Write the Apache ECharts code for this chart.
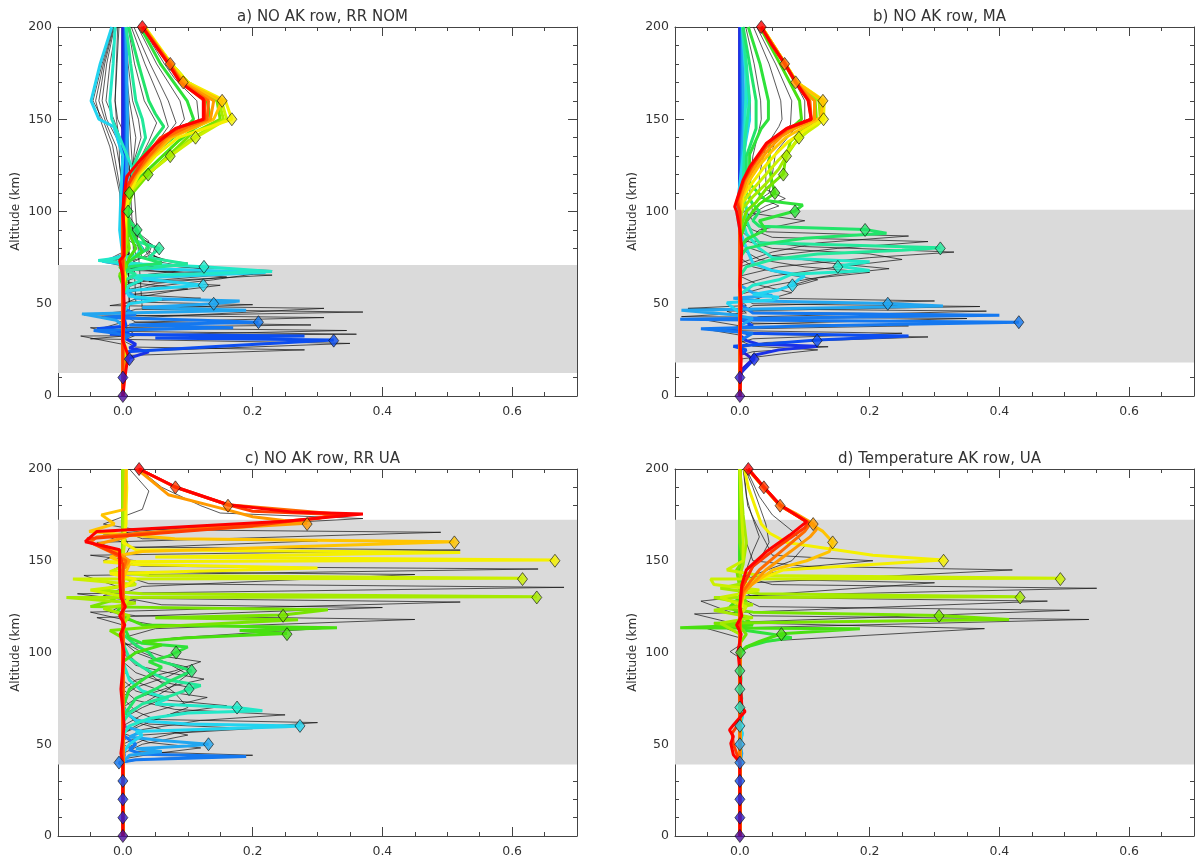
<!DOCTYPE html>
<html><head><meta charset="utf-8">
<script src="https://cdn.jsdelivr.net/npm/echarts@6/dist/echarts.min.js"></script>
<style>html,body{margin:0;padding:0;background:#fff}#c{width:1198px;height:862px}</style>
</head><body><div id="c"></div>
<script>
// ---------- data ----------
const rowAlts = [0,10,20,30,40,50,60,70,80,90,100,110,120,130,140,150,160,170,180,190,200];
const rowColors = ['#4b0c9e','#2a1dd0','#1a30e8','#0c4df0','#1478f0','#22a6f0','#22d4f0','#22e8c8','#22e89a','#22e46a','#2ee23a','#48e010','#78e400','#a6ea00','#ccf000','#f4f000','#ffc400','#ff9a00','#ff6a00','#ff3a00','#ff0000'];
const titles = ['a) NO AK row, RR NOM','b) NO AK row, MA','c) NO AK row, RR UA','d) Temperature AK row, UA'];
const xMajor = [0,0.2,0.4,0.6];
const shadeA = [12.5,71], shadeB = [18.2,101], shadeC = [39,172.4], shadeD = [39,172.4];

const diagA = [0,0,0.01,0.325,0.209,0.14,0.124,0.125,0.056,0.022,0.008,0.01,0.039,0.073,0.112,0.168,0.153,0.093,0.073,null,0.03];
const diagB = [0,0,0.022,0.119,0.43,0.228,0.081,0.151,0.309,0.193,0.085,0.054,0.067,0.072,0.091,0.129,0.128,0.086,0.069,null,0.033];
const diagC = [0,0,0,0,-0.006,0.132,0.273,0.176,0.102,0.106,0.082,0.253,0.247,0.638,0.616,0.666,0.511,0.284,0.162,0.081,0.025];
const diagD = [0,0,0,0,0,0,0,0,0,0,0.001,0.064,0.307,0.432,0.494,0.314,0.143,0.113,0.062,0.037,0.013];

const rowsA = [
 [[0,0],[0,10],[0.002,20],[0,30],[0,100],[0,200]],
 [[0,0],[0,10],[0.004,20],[0,28],[0,100],[0,200]],
 [[0,0],[0,12],[0.01,20.5],[0.04,24],[0.01,26],[0.02,28],[0,32],[0,100],[0.002,200]],
 [[0,0],[0,20],[0.006,24],[0.15,27],[0.325,30.4],[0.05,31.5],[0.28,32.5],[-0.02,33.5],[0.01,35],[-0.04,36.5],[0.005,38],[0,45],[0.003,70],[0.004,100],[0.004,150],[0.003,200]],
 [[0,0],[0,30],[0.01,33],[-0.045,35.5],[0.17,37],[0.01,38.5],[0.209,40],[0.12,41],[-0.03,42.5],[0.02,44],[0,48],[0.002,70],[0.006,100],[0.006,150],[0.004,200]],
 [[0,0],[0,38],[-0.01,41],[-0.063,44.5],[0.19,46.5],[0.03,48],[0.14,50],[0.18,51.5],[0.02,53],[0.01,56],[0,62],[0.003,80],[0.005,100],[0.007,150],[0.005,200]],
 [[0,0],[0,45],[0.01,50],[0.06,52.5],[0.01,54],[0.005,57],[0.124,60],[0.07,62],[0.02,64],[0.22,67],[0.05,69],[-0.032,73],[0,76],[-0.005,90],[-0.003,110],[0,130],[-0.014,146],[-0.037,150],[-0.049,160],[-0.035,180],[-0.017,200]],
 [[0,0],[0,55],[0.01,60],[0.03,63],[0.01,65],[0.23,67.5],[0.125,70],[0.03,71.5],[-0.038,73.5],[0.02,76],[0.03,80],[0.01,88],[0,100],[0.005,110],[0.016,119],[0.014,124],[-0.005,140],[-0.017,150],[-0.02,160],[-0.015,180],[-0.012,200]],
 [[0,0],[0,62],[0.02,66],[0.005,68],[0.1,71.5],[0.04,75],[0.056,80],[0.02,84],[0.01,90],[0.005,100],[0.01,110],[0.018,126],[0.035,140],[0.03,150],[0.02,160],[0.012,180],[0.005,200]],
 [[0,0],[0,65],[0.01,70],[0.06,72],[0.02,76],[0.04,80],[0.03,85],[0.022,90],[0.01,95],[0.005,100],[0.008,110],[0.022,126],[0.05,140],[0.063,146],[0.05,153],[0.04,160],[0.024,180],[0.009,200]],
 [[0,0],[0,60],[0.005,66],[-0.005,70],[0.01,73],[0.03,78],[0.02,85],[0.01,92],[0.008,100],[0.012,110],[0.02,120],[0.06,135],[0.095,145],[0.109,150],[0.099,160],[0.058,180],[0.027,200]],
 [[0,0],[0,60],[-0.005,65],[0.005,70],[0.01,75],[0.02,80],[0.01,88],[0.005,100],[0.01,110],[0.025,118],[0.055,128],[0.085,138],[0.11,145],[0.135,150],[0.13,160],[0.095,170],[0.072,180],[0.03,200]],
 [[0,0],[0,55],[0.005,62],[-0.005,66],[0.005,70],[0,75],[0.01,80],[0.005,90],[0.005,100],[0.015,110],[0.039,120],[0.06,127],[0.085,135],[0.105,142],[0.15,150],[0.145,160],[0.1,170],[0.075,180],[0.03,200]],
 [[0,0],[0,70],[0.005,80],[0.005,100],[0.012,110],[0.03,118],[0.073,130],[0.1,138],[0.155,150],[0.148,160],[0.1,170],[0.075,180],[0.031,200]],
 [[0,0],[0.005,25],[0,30],[0,100],[0.01,110],[0.03,118],[0.065,128],[0.112,140],[0.16,150],[0.152,160],[0.1,170],[0.075,180],[0.031,200]],
 [[0,0],[0,22],[0.005,26],[0,30],[0,60],[0.004,65],[0,70],[0.005,100],[0.01,110],[0.025,120],[0.05,130],[0.085,140],[0.168,150],[0.158,160],[0.1,170],[0.075,180],[0.034,200]],
 [[0,0],[0,100],[0.005,110],[0.022,120],[0.045,130],[0.075,140],[0.12,147],[0.14,150],[0.153,160],[0.095,170],[0.073,180],[0.033,200]],
 [[0,0],[0,100],[0.005,110],[0.02,120],[0.042,130],[0.07,140],[0.11,146],[0.135,150],[0.14,160],[0.093,170],[0.072,180],[0.032,200]],
 [[0,0],[0,100],[0.005,112],[0.018,120],[0.04,130],[0.065,140],[0.1,146],[0.13,150],[0.132,160],[0.09,170],[0.073,180],[0.031,200]],
 [[0,0],[0,100],[0.004,112],[0.017,120],[0.035,130],[0.058,140],[0.09,146],[0.126,150],[0.126,160],[0.089,170],[0.071,180],[0.05,190],[0.03,200]],
 [[0,0],[0.003,10],[0.008,22],[0.005,25],[0,30],[0.002,50],[0,65],[-0.005,73.5],[0.002,76],[0.002,90],[0,100],[0.001,106],[0.006,119],[0.027,128],[0.052,137],[0.081,145],[0.124,150],[0.124,161],[0.088,170],[0.07,180],[0.05,190],[0.03,200]]
];
const blackA = [
 [[0,0],[0,20],[0.01,22],[0.28,25],[0.02,26.5],[0,30],[0,200]],
 [[0,0],[0,24],[0.35,28.5],[-0.05,31],[0.02,33],[0,38],[0,200]],
 [[0,0],[0,28],[-0.065,32.5],[0.36,33.5],[0,35],[0,200]],
 [[0,0],[0,30],[0.02,33],[0.345,35.5],[-0.03,37],[0,40],[0,200]],
 [[0,0],[0,33],[-0.05,37],[0.29,38.5],[0.02,40],[0,44],[0,200]],
 [[0,0],[0,37],[0.02,40],[0.31,42.5],[-0.06,44],[0.01,46],[0,200]],
 [[0,0],[0,40],[-0.04,43],[0.37,45.5],[0.03,47],[0,200]],
 [[0,0],[0,42],[0.31,47.5],[-0.02,49],[0.02,51],[0,200]],
 [[0,0],[0,45],[0.02,47],[0.2,49.5],[0.01,51],[0,200]],
 [[0,0],[0,48],[0.02,51],[0.12,53],[0.01,55],[0.1,58],[0,62],[0,200]],
 [[0,0],[0,50],[0.03,54],[0.08,57],[0.15,60],[0.04,62],[0.23,65.5],[0.02,68],[0,72],[0,200]],
 [[0,0],[0,55],[0.04,59],[0.14,63],[0.2,66],[0.05,69],[-0.02,72],[0,75],[-0.005,110],[-0.02,135],[-0.033,148],[-0.042,160],[-0.03,180],[-0.015,200]],
 [[0,0],[0,57],[0.05,61],[0.16,64.5],[0.04,68],[-0.03,72.5],[0,77],[-0.004,112],[-0.016,136],[-0.03,149],[-0.046,160],[-0.032,180],[-0.016,200]],
 [[0,0],[0,60],[0.05,64],[0.18,66.5],[0.03,69],[-0.028,73],[0,78],[0,115],[-0.01,135],[-0.026,148],[-0.037,160],[-0.028,180],[-0.014,200]],
 [[0,0],[0,58],[0.03,62],[0.23,68],[0.09,70],[-0.025,72.5],[0.01,76],[0,100],[0.005,125],[-0.01,140],[-0.025,150],[-0.032,160],[-0.025,180],[-0.013,200]],
 [[0,0],[0,62],[0.04,66],[0.12,69],[0.06,71],[-0.02,73],[0.01,77],[0,100],[0.008,123],[-0.004,140],[-0.014,150],[-0.026,160],[-0.02,180],[-0.01,200]],
 [[0,0],[0,65],[0.03,70],[0.1,72],[0.03,75],[0.04,78],[0.01,84],[0,100],[0.01,122],[0.005,140],[-0.008,150],[-0.012,160],[-0.009,180],[-0.006,200]],
 [[0,0],[0,68],[0.07,73],[0.04,77],[0.045,82],[0.01,90],[0,100],[0.015,124],[0.02,140],[0.015,150],[0.01,160],[0.004,180],[0.002,200]],
 [[0,0],[0,67],[0.08,72.5],[0.045,76],[0.05,81],[0.015,88],[0.003,100],[0.015,125],[0.028,140],[0.024,150],[0.015,160],[0.008,180],[0.004,200]],
 [[0,0],[0,68],[0.06,73],[0.035,80],[0.04,84],[0.01,92],[0.005,105],[0.02,124],[0.04,138],[0.052,148],[0.033,160],[0.018,180],[0.008,200]],
 [[0,0],[0,70],[0.03,75],[0.02,85],[0.02,92],[0.005,100],[0.01,112],[0.025,124],[0.06,138],[0.082,148],[0.07,160],[0.042,180],[0.017,200]],
 [[0,0],[0,72],[0.04,76],[0.02,86],[0.008,98],[0.01,110],[0.02,122],[0.05,136],[0.07,146],[0.058,160],[0.034,180],[0.013,200]],
 [[0,0],[0,70],[0.02,76],[0.015,85],[0.01,95],[0.008,105],[0.015,118],[0.045,132],[0.08,143],[0.095,150],[0.088,160],[0.052,180],[0.023,200]],
 [[0,0],[0,80],[0.005,100],[0.01,110],[0.025,122],[0.06,135],[0.1,146],[0.117,150],[0.114,160],[0.08,172],[0.064,180],[0.029,200]],
 [[0,0],[0,110],[-0.005,125],[-0.006,140],[-0.01,150],[-0.012,160],[-0.01,180],[-0.008,200]]
];

const rowsB = [
 [[0,0],[0,10],[0,20],[0,100],[0,200]],
 [[0,0],[0,10],[0.005,15],[0.02,20],[0,25],[0,100],[0,200]],
 [[0,0],[0,12],[0.022,20],[0.02,22],[0.06,25],[0.12,27],[0.03,28],[0.01,30],[0,33],[0,100],[0,200]],
 [[0,0],[0,22],[0.01,25],[-0.01,27],[0.05,28.5],[0.119,30.4],[0.26,32.5],[0.01,34],[-0.02,36],[0.02,38],[0,42],[0,100],[0.002,150],[0.002,200]],
 [[0,0],[0,30],[0.02,34],[-0.06,36.5],[0.1,38],[0.43,40],[0.05,41],[-0.092,41.6],[0.4,43.8],[0.02,45],[0,50],[0,100],[0.004,150],[0.003,200]],
 [[0,0],[0,38],[0.02,42],[-0.01,44],[-0.09,46.5],[0.313,48.8],[0.228,50.2],[0.03,51.5],[-0.01,53],[0.05,54.5],[0.02,56],[0,60],[0,100],[0.006,150],[0.004,200]],
 [[0,0],[0,45],[-0.02,50.5],[0.05,52],[0.06,53.5],[0.02,55],[0.06,57.5],[0.081,60.2],[0.09,63],[0.1,65],[0.05,68],[0.02,72],[0.01,80],[0,90],[-0.005,100],[0.005,130],[0.015,150],[0.013,160],[0.008,180],[0.004,200]],
 [[0,0],[0,55],[0.02,60],[0.06,63],[0.08,66],[0.2,68],[0.151,70.5],[0.2,72.8],[0.05,75],[0.03,80],[0.01,88],[0,100],[0.005,110],[0.008,150],[0.01,170],[0.005,200]],
 [[0,0],[0,65],[0.01,70],[0.05,74],[0.12,77],[0.25,79],[0.309,80.4],[0.2,81.5],[0.03,83],[0.02,87],[0.01,95],[0.01,102],[0.005,110],[0.008,140],[0.015,160],[0.01,180],[0.004,200]],
 [[0,0],[0,75],[0.01,80],[0.05,83],[0.1,85.5],[0.226,88.2],[0.193,90.3],[0.03,92],[0.02,95],[0.03,100],[0.02,104],[0.01,110],[0.01,130],[0.025,145],[0.025,160],[0.015,180],[0.005,200]],
 [[0,0],[0,80],[0.01,85],[0.04,90],[0.03,95],[0.085,100.3],[0.097,103.5],[0.04,106],[0.015,115],[0.015,131],[0.033,145],[0.044,150],[0.044,160],[0.031,180],[0.013,200]],
 [[0,0],[0,85],[0.01,95],[0.02,100],[0.03,104],[0.054,110],[0.05,115],[0.045,125],[0.046,137],[0.082,146],[0.095,150],[0.092,160],[0.062,180],[0.031,200]],
 [[0,0],[0,90],[0.01,100],[0.025,105],[0.04,112],[0.067,120.4],[0.07,128],[0.078,138],[0.1,145],[0.118,150],[0.116,160],[0.085,170],[0.069,180],[0.033,200]],
 [[0,0],[0,95],[0.005,102],[0.02,108],[0.04,115],[0.06,123],[0.072,130.4],[0.085,137],[0.112,146],[0.124,150],[0.122,160],[0.087,170],[0.07,180],[0.033,200]],
 [[0,0],[0,98],[0.005,105],[0.02,112],[0.04,120],[0.06,128],[0.08,135],[0.091,140],[0.12,147],[0.129,150],[0.127,160],[0.088,170],[0.07,180],[0.034,200]],
 [[0,0],[0,100],[0.005,108],[0.018,115],[0.035,123],[0.055,131],[0.075,138],[0.1,144],[0.129,150],[0.13,160],[0.088,170],[0.07,180],[0.034,200]],
 [[0,0],[0,100],[0.003,108],[0.015,117],[0.03,125],[0.05,133],[0.07,140],[0.095,145],[0.125,151],[0.128,160],[0.088,170],[0.07,180],[0.034,200]],
 [[0,0],[0,100],[0,106],[0.01,117],[0.025,125],[0.045,134],[0.065,141],[0.085,145],[0.115,150],[0.115,160],[0.086,170],[0.07,180],[0.033,200]],
 [[0,0],[0,100],[-0.003,106],[0.007,117],[0.02,125],[0.043,136],[0.075,145],[0.11,150],[0.108,160],[0.087,170],[0.069,180],[0.033,200]],
 [[0,0],[0,100],[-0.005,105],[0.006,117],[0.017,124],[0.042,137],[0.073,145],[0.11,150],[0.106,160],[0.086,170],[0.069,180],[0.05,190],[0.033,200]],
 [[0,0],[0.002,20],[0,30],[0.002,50],[0,60],[0.003,80],[0,90],[-0.005,100],[-0.008,102.6],[-0.005,106],[0.005,117],[0.015,124],[0.041,137],[0.072,145],[0.11,150],[0.105,160.4],[0.086,170],[0.069,180.3],[0.05,190],[0.033,200]]
];
const blackB = [
 [[0,0],[0,20],[0.08,23.5],[0.12,25],[0.02,27],[0,30],[0,200]],
 [[0,0],[0,22],[0.02,24],[0.136,26.7],[0.03,28],[0,31],[0,200]],
 [[0,0],[0,26],[0.04,29],[0.29,32],[0.01,33.5],[0,36],[0,200]],
 [[0,0],[0,29],[0.02,31],[0.25,34],[-0.02,35.5],[0,38],[0,200]],
 [[0,0],[0,33],[-0.05,36],[0.26,38],[0.02,39.5],[0,43],[0,200]],
 [[0,0],[0,36],[0.02,39],[0.35,42],[-0.09,43],[0.01,45],[0,48],[0,200]],
 [[0,0],[0,38],[-0.05,41],[0.39,44],[0.02,45.5],[0,50],[0,200]],
 [[0,0],[0,40],[0.03,43],[0.38,46],[-0.08,47.5],[0.01,49],[0,52],[0,200]],
 [[0,0],[0,43],[-0.02,46],[0.37,48.5],[0.02,50],[0,54],[0,200]],
 [[0,0],[0,45],[0.02,49],[0.3,51.5],[0.05,53],[0.08,56],[0.03,60],[0,65],[0,200]],
 [[0,0],[0,50],[0.03,53],[0.05,57],[0.1,61],[0.12,63],[0.07,66],[0.02,70],[0,75],[0,200]],
 [[0,0],[0,52],[0.05,57],[0.12,64],[0.2,67],[0.1,70],[0.03,74],[0,80],[0,200]],
 [[0,0],[0,55],[0.05,60],[0.15,66],[0.23,69],[0.14,72],[0.05,76],[0,82],[0,200]],
 [[0,0],[0,60],[0.05,65],[0.15,70],[0.25,74],[0.2,77],[0.05,80],[0,85],[0,200]],
 [[0,0],[0,65],[0.06,70],[0.2,75],[0.33,78],[0.1,81],[0.02,84],[0,90],[0,200]],
 [[0,0],[0,70],[0.05,76],[0.15,80],[0.29,83.7],[0.05,86],[0.02,90],[0,95],[0,200]],
 [[0,0],[0,72],[0.05,78],[0.12,83],[0.26,86.7],[0.04,89],[0.02,95],[0.01,100],[0.005,120],[0.01,140],[0.016,150],[0.016,160],[0.01,180],[0.004,200]],
 [[0,0],[0,80],[0.03,90],[0.1,95],[0.02,99],[0.015,110],[0.02,130],[0.03,145],[0.033,150],[0.032,160],[0.022,180],[0.009,200]],
 [[0,0],[0,90],[0.02,98],[0.06,103],[0.03,108],[0.03,120],[0.04,135],[0.06,146],[0.065,150],[0.063,160],[0.045,180],[0.021,200]],
 [[0,0],[0,95],[0.04,103],[0.07,107],[0.04,112],[0.04,125],[0.055,138],[0.078,147],[0.08,160],[0.055,180],[0.026,200]],
 [[0,0],[0,98],[0.02,104],[0.045,110],[0.05,120],[0.055,132],[0.085,145],[0.1,150],[0.1,160],[0.07,180],[0.031,200]]
];

const rowsC = [
 [[0,0],[0,40],[0,100],[0,200]],
 [[0,0],[0,10],[0,40],[0,200]],
 [[0,0],[0,20],[0,40],[0,200]],
 [[0,0],[0,30],[0,40],[0.002,44],[0,50],[0,200]],
 [[0,0],[0,38],[-0.006,40],[0.02,41.5],[0.19,43.3],[0.03,44.5],[0.01,47],[0.02,50],[0,55],[0,100],[0,200]],
 [[0,0],[0,40],[0.01,44],[0.06,46],[0.02,47.5],[0.1,49],[0.132,50],[0.06,52],[0.01,54],[0.03,57],[0,60],[0,200]],
 [[0,0],[0,45],[0.01,50],[0.03,55],[0.02,57],[0.25,59.5],[0.273,60],[0.1,61],[0.02,63],[0.01,66],[0,70],[0,200]],
 [[0,0],[0,55],[0.01,60],[0.04,64],[0.1,67],[0.215,68.3],[0.176,70],[0.05,72],[0.07,75],[0.03,79],[0.01,85],[0,95],[0,200]],
 [[0,0],[0,62],[0.01,67],[0.03,72],[0.07,76],[0.102,80],[0.12,82],[0.07,85],[0.05,88],[0.03,92],[0.01,97],[0,105],[0,200]],
 [[0,0],[0,65],[0.01,70],[0.02,75],[0.05,80],[0.07,84],[0.106,90],[0.08,93],[0.05,96],[0.04,100],[0.02,104],[0,110],[0,200]],
 [[0,0],[0,70],[0.005,75],[0.01,80],[0.03,85],[0.06,92],[0.04,95],[0.07,98],[0.082,100],[0.1,103],[0.03,105],[0.01,108],[0,115],[0,200]],
 [[0,0],[0,95],[0.02,100],[0.06,104],[0.03,106],[0.1,108],[0.253,110.4],[0.18,112],[0.33,113.5],[0.03,115],[0.01,118],[-0.01,122],[0,126],[0,200]],
 [[0,0],[0,108],[-0.02,112],[0.05,114],[0.27,117.8],[0.05,119],[0.247,120.4],[0.316,123.3],[-0.05,125],[-0.02,128],[0,132],[0,200]],
 [[0,0],[0,115],[0.01,120],[-0.03,124],[0.02,127],[-0.087,130],[0.638,130.4],[0.03,132],[-0.04,134],[0.02,137],[0,142],[0,200]],
 [[0,0],[0,125],[0.01,130],[-0.05,134],[0.02,137],[-0.077,140],[0.616,140.4],[0.04,142],[-0.02,144],[0.01,148],[0,152],[0.003,160],[0.004,175],[0.005,200]],
 [[0,0],[0,135],[0.02,140],[-0.02,143],[0.3,146],[0.02,148],[-0.03,149.5],[0.666,150.4],[0.05,152],[0.52,154.5],[0.02,156],[0,160],[0.005,170],[0.005,180],[0.006,190],[0.005,200]],
 [[0,0],[0,140],[0.01,148],[-0.02,152],[0.03,155],[0.511,160.4],[0.08,162],[-0.052,166],[-0.013,170],[-0.033,175],[0.003,178],[0.004,190],[0.005,200]],
 [[0,0],[0,145],[0.01,150],[-0.01,155],[-0.04,159],[-0.005,162],[0.02,165],[0.284,170.4],[0.2,174],[0.158,178],[0.07,186],[0.022,200]],
 [[0,0],[0,145],[0.005,150],[-0.02,155],[-0.05,160],[-0.04,163],[0.1,167],[0.3,173],[0.33,175.5],[0.162,180.5],[0.081,190],[0.025,200]],
 [[0,0],[0,148],[-0.005,153],[-0.05,160],[-0.055,162],[0.2,169],[0.34,175],[0.2,177],[0.162,180.5],[0.081,190.2],[0.025,200]],
 [[0,0],[0,20],[0,40],[-0.003,45],[0.002,60],[-0.003,80],[0.002,100],[-0.004,110],[0.003,115],[-0.005,120],[0.004,125],[-0.003,130],[-0.005,140],[-0.005,150],[-0.005,156],[-0.058,160.4],[-0.04,166],[0.25,171.5],[0.37,175.5],[0.263,176.5],[0.162,180.5],[0.081,190.2],[0.025,200]]
];
const blackC = [
 [[0,0],[0,160],[-0.03,164],[0.05,167],[0.37,173],[0.15,176],[0.12,180],[0.06,190],[0.025,200]],
 [[0,0],[0,155],[-0.04,160],[0.49,165.5],[0.02,167],[-0.03,170],[0.03,178],[0.04,188],[0.01,200]],
 [[0,0],[0,145],[0.02,150],[-0.05,153],[0.52,155.8],[0.01,157.5],[0,165],[0,200]],
 [[0,0],[0,150],[0.01,157],[0.3,160.8],[0.03,162],[0,166],[0,200]],
 [[0,0],[0,135],[-0.06,142],[0.64,145.5],[0.03,147],[-0.03,150],[0,155],[0,200]],
 [[0,0],[0,132],[0.03,136],[0.45,142.5],[-0.02,144],[0,148],[0,200]],
 [[0,0],[0,125],[0.02,128],[-0.07,132],[0.68,135.5],[0.04,137.5],[0,142],[0,200]],
 [[0,0],[0,118],[-0.05,122],[0.52,127.5],[0.02,129.5],[-0.03,131],[0,135],[0,200]],
 [[0,0],[0,115],[-0.04,119],[0.4,124.5],[0.06,126],[0,130],[0,200]],
 [[0,0],[0,108],[0.05,113],[0.45,118],[0.02,120],[-0.02,122],[0,126],[0,200]],
 [[0,0],[0,104],[0.08,108],[0.33,113.6],[0.05,115],[0,118],[0,200]],
 [[0,0],[0,80],[0.02,85],[0.08,90],[0.12,95],[0.06,98],[0.02,103],[0,110],[0,200]],
 [[0,0],[0,76],[0.02,81],[0.07,87],[0.1,92],[0.05,96],[0.02,100],[0,106],[0,200]],
 [[0,0],[0,70],[0.02,75],[0.08,82],[0.125,85.5],[0.07,89],[0.02,93],[0,100],[0,200]],
 [[0,0],[0,64],[0.03,70],[0.07,76],[0.11,80.5],[0.06,84],[0.02,89],[0,95],[0,200]],
 [[0,0],[0,60],[0.03,66],[0.09,72],[0.13,75.5],[0.06,79],[0.02,84],[0,90],[0,200]],
 [[0,0],[0,56],[0.03,62],[0.08,67],[0.16,71],[0.07,74],[0.02,79],[0,85],[0,200]],
 [[0,0],[0,52],[0.03,58],[0.12,63],[0.25,66],[0.08,69],[0.02,74],[0,80],[0,200]],
 [[0,0],[0,50],[0.03,55],[0.3,61.8],[0.05,63.5],[0.02,68],[0,75],[0,200]],
 [[0,0],[0,47],[0.03,52],[0.08,56],[0.2,58.5],[0.04,61],[0.01,66],[0,72],[0,200]],
 [[0,0],[0,45],[0.03,50],[0.1,55],[0.06,58],[0.02,62],[0,68],[0,200]],
 [[0,0],[0,42],[0.05,45],[0.12,48],[0.04,51],[0,56],[0,200]],
 [[0,0],[0,40],[0.03,42],[0.2,44],[0.02,46],[0,50],[0,200]],
 [[0,0],[0,56],[0.04,62],[0.1,70],[0.08,78],[0.05,86],[0.02,95],[0,102],[0,200]],
 [[0,0],[0,66],[0.03,72],[0.07,80],[0.1,88],[0.07,94],[0.03,100],[0,106],[0,200]]
];

const rowsD = [
 [[0,0],[0,40],[0,100],[0,200]],
 [[0,0],[0,40],[0,100],[0,200]],
 [[0,0],[0,40],[0,100],[0,200]],
 [[0,0],[0,40],[0,100],[0,200]],
 [[0,0],[0,40],[0.002,45],[0,50],[0,100],[0,200]],
 [[0,0],[0,40],[0.003,45],[0,50],[0.003,55],[0,60],[0,100],[0,200]],
 [[0,0],[0,50],[0.004,56],[0,60],[0.004,65],[0,70],[0,200]],
 [[0,0],[0,60],[0.003,66],[0,70],[0.003,75],[0,80],[0,200]],
 [[0,0],[0,70],[0.002,76],[0,80],[0,200]],
 [[0,0],[0,80],[0.002,86],[0,90],[0,200]],
 [[0,0],[0,95],[0.001,100],[0.01,103],[0.04,106],[0.08,108],[0.05,110],[0.01,112],[0,120],[0,150],[0,200]],
 [[0,0],[0,100],[0.01,103],[0.03,106],[0.064,110.2],[0.185,113],[-0.092,113.5],[0.02,115],[0.01,118],[-0.015,125],[0,130],[0,150],[0,200]],
 [[0,0],[0,105],[0.01,110],[0,114],[-0.04,116],[0.415,118],[0.307,120.2],[0.02,122],[-0.02,124],[0.01,127],[0,135],[-0.005,145],[0.005,150],[0,160],[0,200]],
 [[0,0],[0,110],[-0.03,116],[0.02,119],[-0.04,123],[0.02,126],[-0.04,130],[0.432,130.4],[0.03,132],[-0.03,135],[0.01,138],[0,142],[0.005,148],[0.01,160],[0.005,175],[0,200]],
 [[0,0],[0,120],[0.01,125],[-0.03,130],[0.03,134],[-0.04,137],[-0.045,140],[0.494,140.4],[0.03,142],[-0.02,145],[0.005,150],[0.005,160],[0.002,180],[0,200]],
 [[0,0],[0,120],[0.005,130],[0.01,137],[0.067,145],[0.314,150.4],[0.205,153],[0.072,160],[0.046,165],[0.033,170],[0.023,180],[0.013,190],[0.007,200]],
 [[0,0],[0,125],[0.01,135],[0.051,145],[0.103,150],[0.138,155],[0.143,160.2],[0.128,166],[0.105,171],[0.062,180],[0.036,190],[0.012,200]],
 [[0,0],[0,125],[0.005,132],[0.04,145],[0.078,155],[0.108,163],[0.118,167],[0.113,170.2],[0.085,176],[0.062,180],[0.037,190],[0.013,200]],
 [[0,0],[0,125],[0.004,133],[0.03,145],[0.07,157],[0.1,166],[0.108,170],[0.062,180.2],[0.037,190],[0.013,200]],
 [[0,0],[0,40],[-0.01,50],[-0.012,56],[0,62],[0,125],[0.003,135],[0.02,147],[0.06,158],[0.1,168],[0.105,171],[0.062,180],[0.037,190.2],[0.013,200]],
 [[0,0],[0,40],[-0.01,44.2],[-0.014,50.5],[-0.01,54.2],[-0.016,57.8],[-0.01,60.5],[0.008,67.8],[0.003,70.5],[0,90],[-0.003,100.5],[0.002,110],[-0.005,115],[0.003,120],[0,125],[0.001,130],[0.003,137],[0.01,145],[0.041,155],[0.077,164],[0.103,171.3],[0.062,180.5],[0.036,190.5],[0.013,200]]
];
const blackD = [
 [[0,0],[0,130],[0.02,138],[0.42,145],[0.1,147],[0.02,150],[0.01,160],[0.005,175],[0.002,200]],
 [[0,0],[0,120],[-0.06,128],[0.02,131],[0.55,135],[0.05,137],[0,142],[0.005,160],[0,200]],
 [[0,0],[0,115],[-0.07,121],[0.474,128],[0.02,130],[0,135],[0,200]],
 [[0,0],[0,110],[-0.04,116],[0.508,123],[0.03,125],[0,130],[0,200]],
 [[0,0],[0,108],[-0.05,113],[0.538,118],[0.02,120],[0,125],[0,200]],
 [[0,0],[0,100],[0.03,106],[0.377,113],[0.02,116],[0,120],[0,200]],
 [[0,0],[0,125],[-0.02,130],[0.3,138],[0.02,140],[0,145],[0,200]],
 [[0,0],[0,135],[0.01,140],[0.08,146],[0.205,150],[0.05,153],[0.04,160],[0.025,170],[0.012,180],[0.006,200]],
 [[0,0],[0,130],[0.02,142],[0.08,150],[0.1,158],[0.085,165],[0.05,175],[0.03,185],[0.01,200]],
 [[0,0],[0,130],[0.005,140],[0.03,150],[0.045,160],[0.04,170],[0.03,180],[0.02,190],[0.008,200]],
 [[0,0],[0,135],[0.01,145],[0.02,155],[0.03,163],[0.018,175],[0.01,185],[0.005,200]],
 [[0,0],[0,97],[-0.015,100.5],[0,104],[0,200]]
];

// ---------- layout / build ----------
const gridBoxes = [
 {left:58, top:27, width:519, height:369},
 {left:675, top:27, width:519, height:369},
 {left:58, top:469, width:519, height:367},
 {left:675, top:469, width:519, height:367}
];
const panels = [
 {rows:rowsA, black:blackA, diag:diagA, shade:shadeA},
 {rows:rowsB, black:blackB, diag:diagB, shade:shadeB},
 {rows:rowsC, black:blackC, diag:diagC, shade:shadeC},
 {rows:rowsD, black:blackD, diag:diagD, shade:shadeD}
];
const FONT = 'DejaVu Sans';
const AX = '#444';
const TXT = '#333';
const option = {animation:false, backgroundColor:'#fff', title:[], grid:[], xAxis:[], yAxis:[], series:[]};

panels.forEach((p,i)=>{
  const g = gridBoxes[i];
  option.grid.push({left:g.left, top:g.top, width:g.width, height:g.height, show:false});
  const xi = 4*i, yi = 2*i;
  ['bottom','top'].forEach(pos=>{
    option.xAxis.push({type:'value', gridIndex:i, position:pos, min:-0.1, max:0.7, interval:0.05,
      axisLine:{show:true, onZero:false, lineStyle:{color:AX, width:1}},
      axisTick:{show:true, inside:true, length:4, lineStyle:{color:AX}},
      axisLabel:{show:false}, splitLine:{show:false}});
    option.xAxis.push({type:'value', gridIndex:i, position:pos, min:-0.1, max:0.7,
      axisLine:{show:false, onZero:false},
      axisTick:{show:true, inside:true, length:9, customValues:xMajor, lineStyle:{color:AX}},
      axisLabel:{show:pos==='bottom', customValues:xMajor, formatter:v=>v.toFixed(1), margin:9, fontSize:12.5, color:TXT, fontFamily:FONT},
      splitLine:{show:false}});
  });
  ['left','right'].forEach(pos=>{
    option.yAxis.push({type:'value', gridIndex:i, position:pos, min:0, max:200, interval:50,
      axisLine:{show:true, onZero:false, lineStyle:{color:AX, width:1}},
      axisTick:{show:true, inside:true, length:9, lineStyle:{color:AX}},
      minorTick:{show:true, splitNumber:5, length:4, lineStyle:{color:AX}},
      axisLabel:{show:pos==='left', margin:6, fontSize:12.5, color:TXT, fontFamily:FONT},
      splitLine:{show:false}, minorSplitLine:{show:false},
      name: pos==='left' ? 'Altitude (km)' : '', nameLocation:'middle', nameGap:36,
      nameTextStyle:{fontSize:12, color:TXT, fontFamily:FONT}});
  });
  option.title.push({text:titles[i], left:g.left+g.width/2, top:g.top-22, textAlign:'center',
    textStyle:{fontSize:15, fontWeight:'normal', color:TXT, fontFamily:FONT}});
  const XI = xi+0, YI = yi;
  option.series.push({type:'line', xAxisIndex:XI, yAxisIndex:YI, data:[], silent:true, z:1,
    markArea:{silent:true, itemStyle:{color:'#dadada'},
      data:[[{xAxis:-0.1, yAxis:p.shade[0]},{xAxis:0.7, yAxis:p.shade[1]}]]}});
  p.black.forEach(r=>option.series.push({type:'line', xAxisIndex:XI, yAxisIndex:YI, data:r, symbol:'none', silent:true, z:2,
    lineStyle:{color:'#111', width:0.7}}));
  p.rows.forEach((r,k)=>option.series.push({type:'line', xAxisIndex:XI, yAxisIndex:YI, data:r, symbol:'none', silent:true, z:3,
    lineStyle:{color:rowColors[k], width:3}}));
  const pts = [];
  rowAlts.forEach((a,k)=>{ if(p.diag[k]!==null) pts.push({value:[p.diag[k], a], itemStyle:{color:rowColors[k], borderColor:'#111', borderWidth:0.8}}); });
  option.series.push({type:'scatter', xAxisIndex:XI, yAxisIndex:YI, symbol:'diamond', symbolSize:[10,13], z:4, silent:true, data:pts});
});

const chart = echarts.init(document.getElementById('c'), null, {renderer:'canvas'});
chart.setOption(option);
</script>
</body></html>
